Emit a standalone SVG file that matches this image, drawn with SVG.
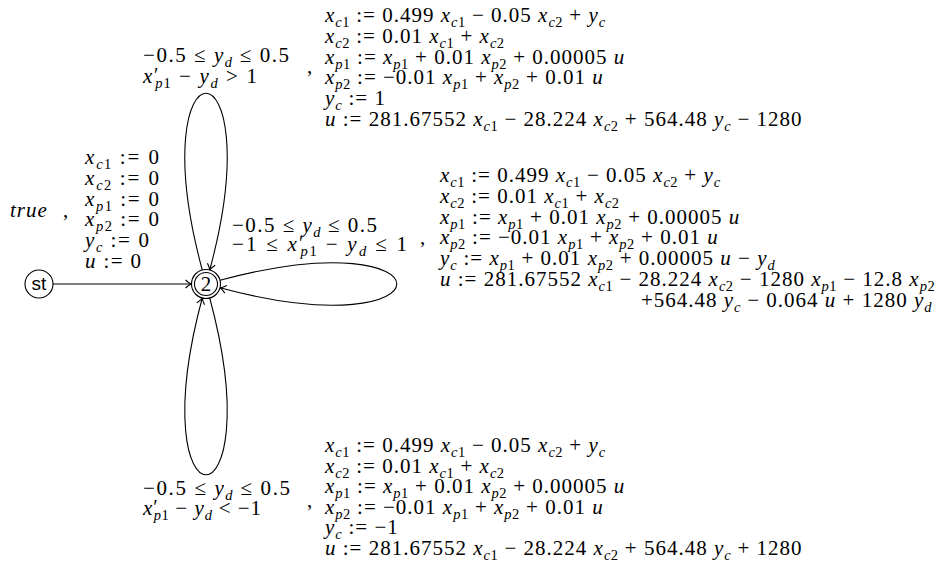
<svg xmlns="http://www.w3.org/2000/svg" width="941" height="570" viewBox="0 0 941 570">
<style>
.t{font-family:"Liberation Serif","DejaVu Serif",serif;font-size:21px;letter-spacing:1px;fill:#000}
.i{font-style:italic}
.s{font-size:14.5px;letter-spacing:0.5px;baseline-shift:-4.5px}
.sp{font-size:20px;baseline-shift:1px}
.e{fill:none;stroke:#000;stroke-width:1.1}
.n{fill:#fff;stroke:#000;stroke-width:1.1}
</style>
<defs>
<marker id="ar" markerUnits="userSpaceOnUse" markerWidth="14" markerHeight="14" viewBox="-8 -7 10 14" refX="0" refY="0" orient="auto">
<path d="M -6 -4 Q -2 -0.6 0 0 Q -2 0.6 -6 4" fill="none" stroke="#000" stroke-width="1.1"/>
</marker>
</defs>
<rect width="941" height="570" fill="#fff"/>

<g id="edges">
<path class="e" d="M 53 284 L 191.5 284" marker-end="url(#ar)"/>
<path class="e" d="M 202.25 270 C 139 34.3 273 34.3 209.75 270" marker-end="url(#ar)"/>
<path class="e" d="M 220 280.25 C 455.7 217 455.7 351 220 287.75" marker-end="url(#ar)"/>
<path class="e" d="M 209.75 298 C 273 533.7 139 533.7 202.25 298" marker-end="url(#ar)"/>
</g>

<g id="st">
<circle class="n" cx="39" cy="284" r="14"/>
<text x="39" y="290" text-anchor="middle" style="font-family:'Liberation Sans','DejaVu Sans',sans-serif;font-size:19px">st</text>
</g>

<g id="q2">
<circle class="n" cx="206" cy="284" r="14.5"/>
<circle class="n" cx="206" cy="284" r="11.5"/>
<text class="t" x="206" y="291" text-anchor="middle" style="font-size:21px;letter-spacing:0">2</text>
</g>

<g id="label-init">
<text class="t i" x="10" y="217">true</text>
<text class="t" x="63" y="217">,</text>
<text class="t" x="85" y="164" textLength="75" lengthAdjust="spacing"><tspan class="i">x</tspan><tspan class="s"><tspan class="i">c</tspan>1</tspan> := 0</text>
<text class="t" x="85" y="184.8" textLength="75" lengthAdjust="spacing"><tspan class="i">x</tspan><tspan class="s"><tspan class="i">c</tspan>2</tspan> := 0</text>
<text class="t" x="85" y="205.6" textLength="75" lengthAdjust="spacing"><tspan class="i">x</tspan><tspan class="s"><tspan class="i">p</tspan>1</tspan> := 0</text>
<text class="t" x="85" y="226.4" textLength="75" lengthAdjust="spacing"><tspan class="i">x</tspan><tspan class="s"><tspan class="i">p</tspan>2</tspan> := 0</text>
<text class="t" x="85" y="247.2" textLength="65" lengthAdjust="spacing"><tspan class="i">y</tspan><tspan class="s i">c</tspan> := 0</text>
<text class="t" x="85" y="268" textLength="57" lengthAdjust="spacing"><tspan class="i">u</tspan> := 0</text>
</g>

<g id="label-top">
<text class="t" x="143" y="62" textLength="147" lengthAdjust="spacing">−0.5 ≤ <tspan class="i">y</tspan><tspan class="s i">d</tspan> ≤ 0.5</text>
<text class="t" x="143" y="83" textLength="115" lengthAdjust="spacing"><tspan class="i">x</tspan><tspan class="sp">′</tspan><tspan class="s" dx="-5"><tspan class="i">p</tspan>1</tspan> − <tspan class="i">y</tspan><tspan class="s i">d</tspan> &gt; 1</text>
<text class="t" x="307" y="73">,</text>
<text class="t" x="325" y="22"><tspan class="i">x</tspan><tspan class="s"><tspan class="i">c</tspan>1</tspan> := 0.499 <tspan class="i">x</tspan><tspan class="s"><tspan class="i">c</tspan>1</tspan> − 0.05 <tspan class="i">x</tspan><tspan class="s"><tspan class="i">c</tspan>2</tspan> + <tspan class="i">y</tspan><tspan class="s i">c</tspan></text>
<text class="t" x="325" y="42.8"><tspan class="i">x</tspan><tspan class="s"><tspan class="i">c</tspan>2</tspan> := 0.01 <tspan class="i">x</tspan><tspan class="s"><tspan class="i">c</tspan>1</tspan> + <tspan class="i">x</tspan><tspan class="s"><tspan class="i">c</tspan>2</tspan></text>
<text class="t" x="325" y="63.6"><tspan class="i">x</tspan><tspan class="s"><tspan class="i">p</tspan>1</tspan> := <tspan class="i">x</tspan><tspan class="s"><tspan class="i">p</tspan>1</tspan> + 0.01 <tspan class="i">x</tspan><tspan class="s"><tspan class="i">p</tspan>2</tspan> + 0.00005 <tspan class="i">u</tspan></text>
<text class="t" x="325" y="84.4"><tspan class="i">x</tspan><tspan class="s"><tspan class="i">p</tspan>2</tspan> := −0.01 <tspan class="i">x</tspan><tspan class="s"><tspan class="i">p</tspan>1</tspan> + <tspan class="i">x</tspan><tspan class="s"><tspan class="i">p</tspan>2</tspan> + 0.01 <tspan class="i">u</tspan></text>
<text class="t" x="325" y="105.2"><tspan class="i">y</tspan><tspan class="s i">c</tspan> := 1</text>
<text class="t" x="325" y="126"><tspan class="i">u</tspan> := 281.67552 <tspan class="i">x</tspan><tspan class="s"><tspan class="i">c</tspan>1</tspan> − 28.224 <tspan class="i">x</tspan><tspan class="s"><tspan class="i">c</tspan>2</tspan> + 564.48 <tspan class="i">y</tspan><tspan class="s i">c</tspan> − 1280</text>
</g>

<g id="label-right">
<text class="t" x="232" y="232" textLength="146" lengthAdjust="spacing">−0.5 ≤ <tspan class="i">y</tspan><tspan class="s i">d</tspan> ≤ 0.5</text>
<text class="t" x="232" y="251" textLength="176" lengthAdjust="spacing">−1 ≤ <tspan class="i">x</tspan><tspan class="sp">′</tspan><tspan class="s" dx="-5"><tspan class="i">p</tspan>1</tspan> − <tspan class="i">y</tspan><tspan class="s i">d</tspan> ≤ 1</text>
<text class="t" x="420" y="244">,</text>
<text class="t" x="440" y="182"><tspan class="i">x</tspan><tspan class="s"><tspan class="i">c</tspan>1</tspan> := 0.499 <tspan class="i">x</tspan><tspan class="s"><tspan class="i">c</tspan>1</tspan> − 0.05 <tspan class="i">x</tspan><tspan class="s"><tspan class="i">c</tspan>2</tspan> + <tspan class="i">y</tspan><tspan class="s i">c</tspan></text>
<text class="t" x="440" y="202.8"><tspan class="i">x</tspan><tspan class="s"><tspan class="i">c</tspan>2</tspan> := 0.01 <tspan class="i">x</tspan><tspan class="s"><tspan class="i">c</tspan>1</tspan> + <tspan class="i">x</tspan><tspan class="s"><tspan class="i">c</tspan>2</tspan></text>
<text class="t" x="440" y="223.6"><tspan class="i">x</tspan><tspan class="s"><tspan class="i">p</tspan>1</tspan> := <tspan class="i">x</tspan><tspan class="s"><tspan class="i">p</tspan>1</tspan> + 0.01 <tspan class="i">x</tspan><tspan class="s"><tspan class="i">p</tspan>2</tspan> + 0.00005 <tspan class="i">u</tspan></text>
<text class="t" x="440" y="244.4"><tspan class="i">x</tspan><tspan class="s"><tspan class="i">p</tspan>2</tspan> := −0.01 <tspan class="i">x</tspan><tspan class="s"><tspan class="i">p</tspan>1</tspan> + <tspan class="i">x</tspan><tspan class="s"><tspan class="i">p</tspan>2</tspan> + 0.01 <tspan class="i">u</tspan></text>
<text class="t" x="440" y="265.2"><tspan class="i">y</tspan><tspan class="s i">c</tspan> := <tspan class="i">x</tspan><tspan class="s"><tspan class="i">p</tspan>1</tspan> + 0.01 <tspan class="i">x</tspan><tspan class="s"><tspan class="i">p</tspan>2</tspan> + 0.00005 <tspan class="i">u</tspan> − <tspan class="i">y</tspan><tspan class="s i">d</tspan></text>
<text class="t" x="440" y="286"><tspan class="i">u</tspan> := 281.67552 <tspan class="i">x</tspan><tspan class="s"><tspan class="i">c</tspan>1</tspan> − 28.224 <tspan class="i">x</tspan><tspan class="s"><tspan class="i">c</tspan>2</tspan> − 1280 <tspan class="i">x</tspan><tspan class="s"><tspan class="i">p</tspan>1</tspan> − 12.8 <tspan class="i">x</tspan><tspan class="s"><tspan class="i">p</tspan>2</tspan></text>
<text class="t" x="932" y="306.8" text-anchor="end">+564.48 <tspan class="i">y</tspan><tspan class="s i">c</tspan> − 0.064 <tspan class="i">u</tspan> + 1280 <tspan class="i">y</tspan><tspan class="s i">d</tspan></text>
</g>

<g id="label-bottom">
<text class="t" x="143" y="495" textLength="148" lengthAdjust="spacing">−0.5 ≤ <tspan class="i">y</tspan><tspan class="s i">d</tspan> ≤ 0.5</text>
<text class="t" x="143" y="515" textLength="119" lengthAdjust="spacing"><tspan class="i">x</tspan><tspan class="sp">′</tspan><tspan class="s" dx="-5"><tspan class="i">p</tspan>1</tspan> − <tspan class="i">y</tspan><tspan class="s i">d</tspan> &lt; −1</text>
<text class="t" x="307" y="507">,</text>
<text class="t" x="325" y="452"><tspan class="i">x</tspan><tspan class="s"><tspan class="i">c</tspan>1</tspan> := 0.499 <tspan class="i">x</tspan><tspan class="s"><tspan class="i">c</tspan>1</tspan> − 0.05 <tspan class="i">x</tspan><tspan class="s"><tspan class="i">c</tspan>2</tspan> + <tspan class="i">y</tspan><tspan class="s i">c</tspan></text>
<text class="t" x="325" y="472.6"><tspan class="i">x</tspan><tspan class="s"><tspan class="i">c</tspan>2</tspan> := 0.01 <tspan class="i">x</tspan><tspan class="s"><tspan class="i">c</tspan>1</tspan> + <tspan class="i">x</tspan><tspan class="s"><tspan class="i">c</tspan>2</tspan></text>
<text class="t" x="325" y="493.2"><tspan class="i">x</tspan><tspan class="s"><tspan class="i">p</tspan>1</tspan> := <tspan class="i">x</tspan><tspan class="s"><tspan class="i">p</tspan>1</tspan> + 0.01 <tspan class="i">x</tspan><tspan class="s"><tspan class="i">p</tspan>2</tspan> + 0.00005 <tspan class="i">u</tspan></text>
<text class="t" x="325" y="513.8"><tspan class="i">x</tspan><tspan class="s"><tspan class="i">p</tspan>2</tspan> := −0.01 <tspan class="i">x</tspan><tspan class="s"><tspan class="i">p</tspan>1</tspan> + <tspan class="i">x</tspan><tspan class="s"><tspan class="i">p</tspan>2</tspan> + 0.01 <tspan class="i">u</tspan></text>
<text class="t" x="325" y="534.4"><tspan class="i">y</tspan><tspan class="s i">c</tspan> := −1</text>
<text class="t" x="325" y="555"><tspan class="i">u</tspan> := 281.67552 <tspan class="i">x</tspan><tspan class="s"><tspan class="i">c</tspan>1</tspan> − 28.224 <tspan class="i">x</tspan><tspan class="s"><tspan class="i">c</tspan>2</tspan> + 564.48 <tspan class="i">y</tspan><tspan class="s i">c</tspan> + 1280</text>
</g>
</svg>
